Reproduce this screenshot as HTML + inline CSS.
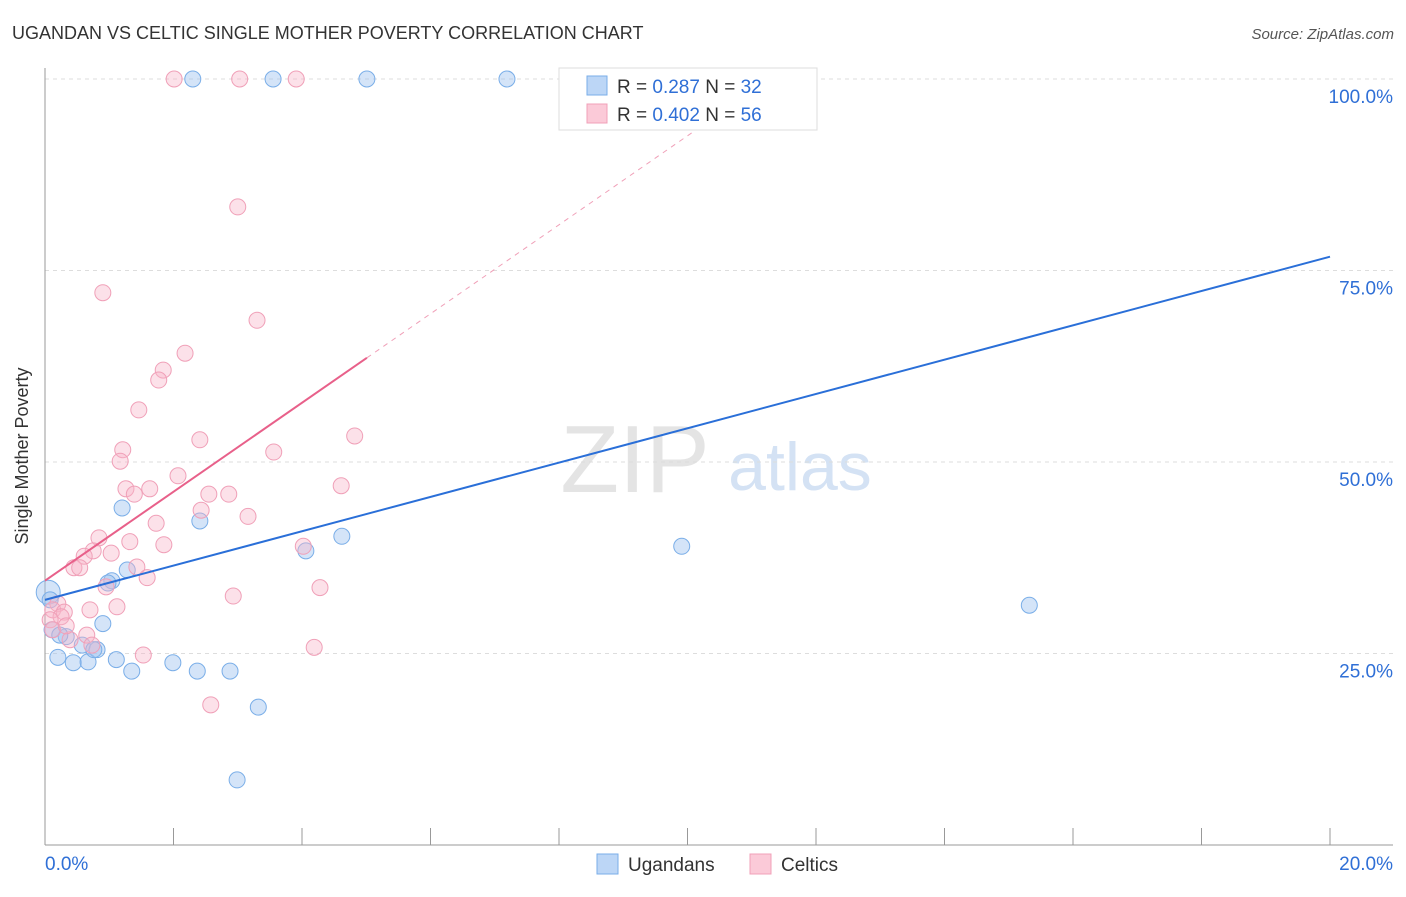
<!DOCTYPE html>
<html><head><meta charset="utf-8"><style>
body{margin:0;background:#fff;font-family:"Liberation Sans",sans-serif}
svg text{font-family:"Liberation Sans",sans-serif}
</style></head><body>
<svg id="c" width="1406" height="892" xmlns="http://www.w3.org/2000/svg">
<text x="12" y="39" font-size="18" fill="#333">UGANDAN VS CELTIC SINGLE MOTHER POVERTY CORRELATION CHART</text>
<text x="1394" y="39" font-size="15" fill="#555" font-style="italic" text-anchor="end">Source: ZipAtlas.com</text>
<text x="28" y="456" font-size="18" fill="#333" text-anchor="middle" transform="rotate(-90 28 456)">Single Mother Poverty</text>
<text x="635" y="492" font-size="96" fill="#e4e4e4" font-family="Liberation Serif" text-anchor="middle">ZIP</text>
<text x="800" y="490" font-size="68" fill="#d4e2f4" text-anchor="middle">atlas</text>
<g id="grid"></g><g id="axes"></g><g id="pts"></g><g id="lines"></g>
<g>
<rect x="559" y="68" width="258" height="62" fill="#fff" stroke="#ddd"/>
<rect x="587" y="76" width="20" height="19" fill="#bcd6f6" stroke="#7aaee8"/>
<rect x="587" y="104" width="20" height="19" fill="#fbcad8" stroke="#f0a0b8"/>
<text x="617" y="93" font-size="19" fill="#333">R = <tspan fill="#2f6fd6">0.287</tspan>   N = <tspan fill="#2f6fd6">32</tspan></text>
<text x="617" y="121" font-size="19" fill="#333">R = <tspan fill="#2f6fd6">0.402</tspan>   N = <tspan fill="#2f6fd6">56</tspan></text>
</g>
<g>
<rect x="597" y="854" width="21" height="20" fill="#bcd6f6" stroke="#7aaee8"/>
<text x="628" y="871" font-size="19" fill="#333">Ugandans</text>
<rect x="750" y="854" width="21" height="20" fill="#fbcad8" stroke="#f0a0b8"/>
<text x="781" y="871" font-size="19" fill="#333">Celtics</text>
</g>
</svg>
<script>
const yTicks=[25,50,75,100];
const xTickLabels=["0.0%","20.0%"];
const blueX=[2.30,3.55,5.01,7.19,0.05,0.08,0.11,0.20,0.33,0.44,0.58,0.67,0.81,0.90,1.04,1.11,1.20,1.28,1.35,1.99,2.37,2.41,2.88,3.32,2.99,4.06,4.62,9.91,15.32,0.23,0.98,0.76];
const blueY=[100,100,100,100,33.0,32.0,28.1,24.5,27.2,23.8,26.1,23.9,25.5,28.9,34.5,24.2,44.0,35.9,22.7,23.8,22.7,42.3,22.7,18.0,8.5,38.4,40.3,39.0,31.3,27.4,34.2,25.5];
const pinkX=[2.01,3.03,3.91,3.00,0.90,3.30,2.18,1.84,1.77,1.46,1.21,1.17,2.41,3.56,4.82,2.07,1.26,1.39,1.63,2.55,2.86,4.61,2.43,3.16,1.73,1.85,0.84,1.32,4.02,0.75,1.03,0.61,0.45,0.54,1.43,1.59,0.95,4.28,2.93,0.20,0.12,0.30,0.25,0.70,1.12,0.08,0.12,0.65,0.39,0.73,1.53,4.19,2.58,0.33];
const pinkY=[100,100,100,83.3,72.1,68.5,64.2,62.0,60.7,56.8,51.6,50.1,52.9,51.3,53.4,48.2,46.5,45.8,46.5,45.8,45.8,46.9,43.7,42.9,42.0,39.2,40.1,39.6,39.0,38.4,38.1,37.7,36.2,36.2,36.3,34.9,33.7,33.6,32.5,31.5,30.7,30.4,29.8,30.7,31.1,29.4,28.1,27.4,26.8,26.1,24.8,25.8,18.3,28.6];
const blueLine=[32.0,76.8];   // y at x=0 and x=20
const pinkLine=[34.5,63.6];   // y at x=0 and x=5.01
const pinkLineEnd=5.01;
const X=v=>45+v*64.25, Y=v=>845-v*7.66;
const NS="http://www.w3.org/2000/svg";
function mk(t,a,p){const e=document.createElementNS(NS,t);for(const k in a)e.setAttribute(k,a[k]);p.appendChild(e);return e;}
const grid=document.getElementById('grid'),axes=document.getElementById('axes'),pts=document.getElementById('pts'),lines=document.getElementById('lines');
yTicks.forEach(t=>{
 const l=mk('line',{x1:45,x2:1393,y1:Y(t),y2:Y(t),stroke:'#ddd','stroke-dasharray':'4,4'},grid);
 
 
 const tx=mk('text',{x:1393,y:Y(t)+24,'font-size':19,fill:'#2f6fd6','text-anchor':'end'},grid);
 tx.textContent=t.toFixed(1)+'%';
 
 
});
const ya=mk('line',{x1:45,x2:45,y1:68,y2:845,stroke:'#999'},axes);


const xa=mk('line',{x1:45,x2:1393,y1:845,y2:845,stroke:'#999'},axes);


for(let i=1;i<=10;i++){
 const t=mk('line',{x1:X(i*2),x2:X(i*2),y1:828,y2:845,stroke:'#999'},axes);
 
 
}
[[0,'start',45],[1,'end',1393]].forEach(([i,a,x])=>{
 const t=mk('text',{x:x,y:870,'font-size':19,fill:'#2f6fd6','text-anchor':a},axes);
 t.textContent=xTickLabels[i];
 
 
});
blueX.forEach((x,i)=>{
 const c=mk('circle',{cx:X(x),cy:Y(blueY[i]),r:i==4?12:8,fill:'rgba(160,196,240,0.45)',stroke:'#7aaee8','stroke-width':1},pts);
 
 
});
pinkX.forEach((x,i)=>{
 const c=mk('circle',{cx:X(x),cy:Y(pinkY[i]),r:8,fill:'rgba(248,180,200,0.4)',stroke:'#f0a0b8','stroke-width':1},pts);
 
 
});
const bl=mk('line',{x1:X(0),y1:Y(blueLine[0]),x2:X(20),y2:Y(blueLine[1]),stroke:'#2a6fd8','stroke-width':2},lines);


const slope=(pinkLine[1]-pinkLine[0])/pinkLineEnd;
const xEnd=(100-pinkLine[0])/slope;
const pd=mk('line',{x1:X(pinkLineEnd),y1:Y(pinkLine[1]),x2:X(xEnd),y2:Y(100),stroke:'#f0a0b8','stroke-width':1,'stroke-dasharray':'5,5'},lines);


const pl=mk('line',{x1:X(0),y1:Y(pinkLine[0]),x2:X(pinkLineEnd),y2:Y(pinkLine[1]),stroke:'#e8608a','stroke-width':2},lines);


</script>
</body></html>
